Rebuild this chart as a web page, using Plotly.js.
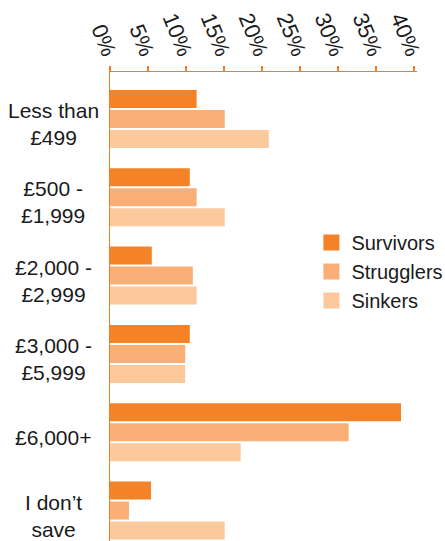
<!DOCTYPE html>
<html>
<head>
<meta charset="utf-8">
<script src="https://cdn.plot.ly/plotly-3.0.1.min.js"></script>
<style>
  html, body { margin:0; padding:0; background:#fff; }
  #chart { width:445px; height:541px; }
</style>
</head>
<body>
<div id="chart"></div>
<script>
const categories = ["Less than<br>£499", "£500 -<br>£1,999", "£2,000 -<br>£2,999", "£3,000 -<br>£5,999", "£6,000+", "I don’t<br>save"];
const seriesNames = ["Survivors", "Strugglers", "Sinkers"];
const survivors  = [11.4, 10.5, 5.5, 10.5, 38.3, 5.4];
const strugglers = [15.1, 11.4, 10.9, 9.9, 31.4, 2.5];
const sinkers    = [20.9, 15.1, 11.4, 9.9, 17.2, 15.1];
const xTicks = [0, 5, 10, 15, 20, 25, 30, 35, 40];

const colors = ["#f38326", "#f9af76", "#fcc99c"];
const axisColor = "#ef7f24";
const FONT = "Arial, 'Liberation Sans', Helvetica, sans-serif";

const values = [survivors, strugglers, sinkers];

const traces = values.map((vals, i) => ({
  type: "bar", orientation: "h",
  x: vals, y: categories, name: seriesNames[i],
  marker: { color: colors[i] },
  showlegend: false, hoverinfo: "x+name"
}));

// legend entries with bigger square swatches
seriesNames.forEach((name, i) => traces.push({
  type: "scatter", mode: "markers", x: [null], y: [null], name: name,
  marker: { symbol: "square", size: 17, color: colors[i] },
  showlegend: true
}));

const annotations = categories.map(c => ({
  xref: "paper", yref: "y", x: -0.185, y: c, text: c,
  showarrow: false, xanchor: "center", yanchor: "middle", align: "center",
  yshift: -5, font: { family: FONT, size: 21, color: "#1a1a1a" }
}));

const layout = {
  width: 445, height: 541,
  paper_bgcolor: "#fff", plot_bgcolor: "#fff",
  font: { family: FONT, size: 20, color: "#1a1a1a" },
  margin: { l: 110, r: 28, t: 72, b: 0, pad: 0, autoexpand: false },
  barmode: "group", bargap: 0.234, bargroupgap: 0.1,
  showlegend: true,
  legend: {
    x: 0.656, y: 0.678, xanchor: "left", yanchor: "top",
    bgcolor: "rgba(0,0,0,0)", font: { family: FONT, size: 20, color: "#1a1a1a" },
    tracegroupgap: 0, itemsizing: "trace"
  },
  xaxis: {
    side: "top", range: [0, 40.4], automargin: false,
    tickmode: "array", tickvals: xTicks, ticktext: xTicks.map(v => v + "%"),
    tickangle: 68, ticks: "outside", ticklen: 5, tickwidth: 1.5, tickcolor: axisColor,
    ticklabelstandoff: -8, ticklabelshift: 3,
    showline: true, linecolor: axisColor, linewidth: 1.5,
    showgrid: false, zeroline: false,
    tickfont: { family: FONT, size: 22, color: "#1a1a1a" }
  },
  yaxis: {
    type: "category", categoryorder: "array", categoryarray: categories,
    range: [5.389, -0.6], automargin: false,
    showticklabels: false, ticks: "",
    showline: true, linecolor: axisColor, linewidth: 1.5,
    showgrid: false, zeroline: false
  },
  annotations: annotations
};

Plotly.newPlot("chart", traces, layout, { displayModeBar: false, staticPlot: true });
</script>
</body>
</html>
